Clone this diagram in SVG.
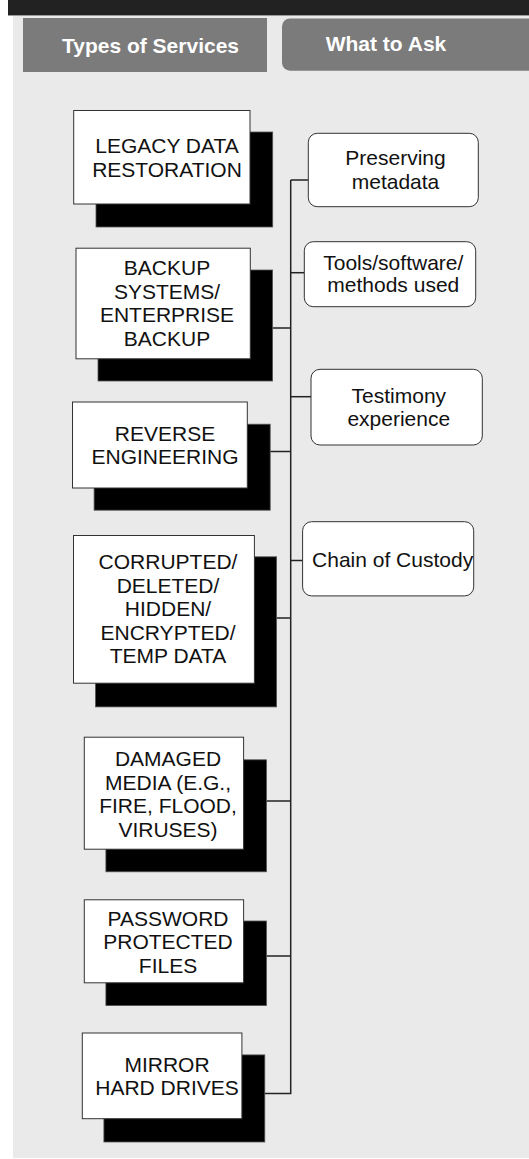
<svg xmlns="http://www.w3.org/2000/svg" width="529" height="1159" viewBox="0 0 529 1159">
<style>
.t{font-family:"Liberation Sans",Arial,sans-serif;font-size:21px;fill:#111;text-anchor:middle}
.tab{fill:#7b7b7b}
.tabt{font-family:"Liberation Sans",Arial,sans-serif;font-size:21px;font-weight:bold;fill:#fff;text-anchor:middle}
.box{fill:#fff;stroke:#333;stroke-width:1}
.sh{fill:#000;stroke:#555;stroke-width:0.8}
.rbox{fill:#fff;stroke:#333;stroke-width:1}
.c{fill:none;stroke:#222;stroke-width:1.5}
</style>
<rect x="0" y="0" width="529" height="1159" fill="#fff"/>
<rect x="13" y="15" width="516" height="1143" fill="#eaeaea"/>
<rect x="8" y="0" width="521" height="15" fill="#222"/>
<line x1="8" y1="15.5" x2="529" y2="15.5" stroke="#9a9a9a" stroke-width="1"/>
<g id="tab-types">
<rect class="tab" x="23" y="18" width="244" height="54"/>
<text class="tabt" x="150.5" y="53">Types of Services</text>
</g>
<g id="tab-ask">
<path class="tab" d="M290,18.5 H529 V70.7 H290 A8,8 0 0 1 282,62.7 V26.5 A8,8 0 0 1 290,18.5 Z"/>
<text class="tabt" x="386" y="51">What to Ask</text>
</g>
<g id="connectors">
<path class="c" d="M290.7,180 V1093.5 H264.8"/>
<path class="c" d="M290.7,180 H308.3"/>
<path class="c" d="M290.7,272.7 H304.3"/>
<path class="c" d="M290.7,396.7 H311"/>
<path class="c" d="M290.7,560.5 H302.6"/>
<path class="c" d="M272.6,328 H290.7"/>
<path class="c" d="M270.2,451.5 H290.7"/>
<path class="c" d="M276.6,618 H290.7"/>
<path class="c" d="M266.5,801 H290.7"/>
<path class="c" d="M266.5,956 H290.7"/>
</g>
<g id="legacy">
<rect class="sh" x="96" y="132" width="176.7" height="95"/>
<rect class="box" x="73.7" y="110.5" width="176.3" height="93.5"/>
<text class="t" x="167" y="153.3">LEGACY DATA</text>
<text class="t" x="167" y="176.5">RESTORATION</text>
</g>
<g id="backup">
<rect class="sh" x="98" y="270" width="174.6" height="111"/>
<rect class="box" x="76" y="248.2" width="174.3" height="110.6"/>
<text class="t" x="167" y="275">BACKUP</text>
<text class="t" x="167" y="298.7">SYSTEMS/</text>
<text class="t" x="167" y="322.3">ENTERPRISE</text>
<text class="t" x="167" y="346">BACKUP</text>
</g>
<g id="reverse">
<rect class="sh" x="94.1" y="424.2" width="176.1" height="86"/>
<rect class="box" x="72.5" y="402" width="174.8" height="86"/>
<text class="t" x="165" y="440.7">REVERSE</text>
<text class="t" x="165" y="464.3">ENGINEERING</text>
</g>
<g id="corrupted">
<rect class="sh" x="95.5" y="556.8" width="181.1" height="150.1"/>
<rect class="box" x="73.5" y="535.5" width="180.9" height="147.7"/>
<text class="t" x="168" y="568.9">CORRUPTED/</text>
<text class="t" x="168" y="592.5">DELETED/</text>
<text class="t" x="168" y="616.2">HIDDEN/</text>
<text class="t" x="168" y="639.8">ENCRYPTED/</text>
<text class="t" x="168" y="663.4">TEMP DATA</text>
</g>
<g id="damaged">
<rect class="sh" x="105.9" y="759.8" width="160.6" height="112"/>
<rect class="box" x="84.3" y="737.2" width="159.3" height="112"/>
<text class="t" x="168" y="766.2">DAMAGED</text>
<text class="t" x="168" y="789.7">MEDIA (E.G.,</text>
<text class="t" x="168" y="813.2">FIRE, FLOOD,</text>
<text class="t" x="168" y="836.7">VIRUSES)</text>
</g>
<g id="password">
<rect class="sh" x="105.9" y="921" width="160.6" height="84.6"/>
<rect class="box" x="84.3" y="899.8" width="159.3" height="83"/>
<text class="t" x="168" y="925.7">PASSWORD</text>
<text class="t" x="168" y="949.2">PROTECTED</text>
<text class="t" x="168" y="972.7">FILES</text>
</g>
<g id="mirror">
<rect class="sh" x="103.9" y="1054.9" width="160.9" height="87.1"/>
<rect class="box" x="82.3" y="1033" width="159.6" height="85.7"/>
<text class="t" x="167" y="1071.8">MIRROR</text>
<text class="t" x="167" y="1095.4">HARD DRIVES</text>
</g>
<g id="preserving">
<rect class="rbox" x="308.3" y="133.3" width="170" height="73.4" rx="9"/>
<text class="t" x="395.5" y="165">Preserving</text>
<text class="t" x="395.5" y="189">metadata</text>
</g>
<g id="tools">
<rect class="rbox" x="304.3" y="241.7" width="171.4" height="65" rx="9"/>
<text class="t" x="393.3" y="270">Tools/software/</text>
<text class="t" x="393.3" y="292">methods used</text>
</g>
<g id="testimony">
<rect class="rbox" x="311" y="369.3" width="171.3" height="75.7" rx="9"/>
<text class="t" x="398.8" y="403.3">Testimony</text>
<text class="t" x="398.8" y="425.7">experience</text>
</g>
<g id="custody">
<rect class="rbox" x="302.6" y="521.7" width="171.1" height="74.2" rx="9"/>
<text class="t" x="392.6" y="566.6">Chain of Custody</text>
</g>
</svg>
